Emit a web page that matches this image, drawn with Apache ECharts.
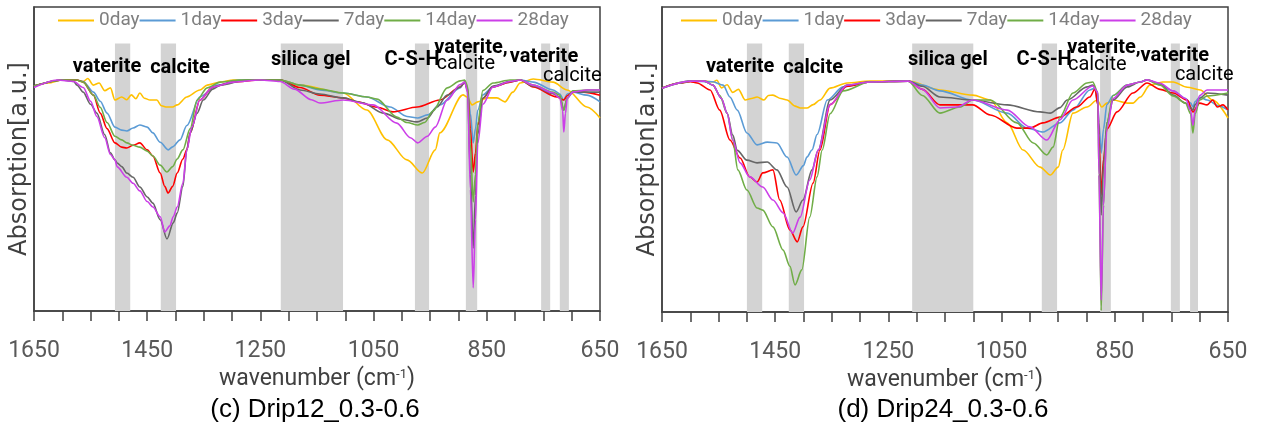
<!DOCTYPE html>
<html>
<head>
<meta charset="utf-8">
<script src="https://cdn.jsdelivr.net/npm/echarts@6/dist/echarts.min.js"></script>
<style>
  html, body { margin: 0; padding: 0; background: #fff; }
  #chart { width: 1262px; height: 432px; }
</style>
</head>
<body>
<div id="chart"></div>
<script>
// 图例 / 颜色
const days = ['0day', '1day', '3day', '7day', '14day', '28day']
const colors = ['#FFC000', '#5B9BD5', '#FF0000', '#666666', '#70AD47', '#CC3FE8']
const tickLabels = [1650, 1450, 1250, 1050, 850, 650]

// (c) Drip12_0.3-0.6 : [wavenumber, absorption a.u.]
const c0 = [[1650,74],[1625,75],[1600,76],[1575,76],[1563,75.5],[1555,76.5],[1545,74.3],[1535,75],[1525,72.5],[1515,73.4],[1507,69.4],[1495,70.4],[1486,69.5],[1478,71.1],[1470,69.8],[1463,71.7],[1455,70],[1445,69.4],[1433,69.4],[1425,67.5],[1415,67.1],[1405,67.1],[1397,67.8],[1380,70.4],[1357,72.7],[1344,74.3],[1321,75.3],[1298,76],[1215,76],[1180,74.3],[1104,71.7],[1062,66.1],[1026,56.3],[991,49.7],[964,45.4],[941,53],[933,58.6],[892,71.1],[885,70.4],[876,67.8],[866,68.8],[850,70.1],[832,70.1],[818,68.8],[804,72],[791,75],[768,76.3],[733,75.3],[708,72.7],[673,67.1],[650,63.5]]
const c1 = [[1650,74],[1600,76],[1575,76],[1563,75.5],[1545,72],[1533,69],[1521,65.1],[1507,60.5],[1495,59.5],[1486,59.2],[1475,60.2],[1463,61.2],[1450,60.5],[1440,58.6],[1427,55.5],[1413,53],[1405,54],[1392,56.3],[1380,61],[1357,70.4],[1327,74.3],[1286,76],[1215,76],[1180,74.3],[1145,72.7],[1104,71.7],[1062,70.4],[1021,67.1],[991,64],[972,63.5],[955,64.5],[933,67.8],[897,73.4],[889,75.3],[884,73.5],[879,65],[874,55.3],[870,60],[866,66],[857,71.1],[839,73.7],[809,75.3],[791,76],[768,75.3],[733,72.7],[721,71.4],[714,69.4],[708,71.4],[698,72],[673,71],[650,68.8]]
const c3 = [[1650,74],[1600,76],[1575,76],[1563,75.3],[1545,71],[1533,65.1],[1521,60],[1507,55.3],[1495,53.9],[1486,53.6],[1475,54.5],[1463,55.3],[1450,53],[1440,51],[1427,45.4],[1419,41],[1413,38.8],[1405,41],[1397,45.4],[1387,50],[1380,53],[1374,58.6],[1357,69.4],[1334,73.7],[1298,75.3],[1250,76],[1215,76],[1180,73.5],[1145,71],[1104,70.1],[1079,68.8],[1044,67],[1016,65.5],[973,67.1],[933,69.4],[897,73.7],[889,75.3],[884,73],[879,60],[874,45.7],[870,52],[866,61],[857,70],[839,73.7],[809,75.3],[791,76],[768,73.7],[726,70.4],[714,69.4],[708,70.8],[698,72],[680,72],[650,71]]
const c7 = [[1650,74],[1600,76],[1580,75.5],[1574,74.3],[1563,72],[1550,68],[1539,65.1],[1525,58],[1515,52],[1507,49.7],[1503,48.7],[1495,47.5],[1486,45.4],[1475,44],[1463,40.8],[1450,37.5],[1440,35.5],[1427,30],[1415,23.7],[1404,29],[1397,32.2],[1387,41],[1380,53],[1374,58.6],[1362,65],[1351,69.4],[1334,73],[1321,74.3],[1274,76],[1215,76],[1180,72.7],[1145,71.4],[1104,70.1],[1070,68.5],[1033,65.1],[1000,63],[973,62.2],[955,63.5],[938,67.1],[920,71],[897,73.7],[889,75.3],[884,72.5],[879,45],[874,20.7],[870,38],[866,58],[857,70],[839,74],[809,75.5],[791,76],[768,74],[733,71.5],[721,70.4],[714,66.1],[708,70],[698,72],[673,72],[650,72]]
const c14 = [[1650,74],[1600,76],[1575,76],[1563,75.3],[1545,71],[1533,67],[1521,62],[1507,57.5],[1495,56.3],[1486,55.3],[1475,54.5],[1463,53.9],[1450,52.6],[1440,51],[1427,48],[1415,45.7],[1405,47.5],[1397,50],[1387,53],[1374,60],[1362,69.4],[1344,73.4],[1321,75.3],[1286,76],[1215,76],[1180,74.3],[1145,73],[1104,71.7],[1062,70.4],[1044,69.7],[1009,63.8],[991,62],[972,61.2],[960,62],[945,65.8],[920,73.4],[897,75.7],[889,76],[884,74],[879,55],[874,35.9],[870,45],[866,62],[857,72.5],[839,75],[809,76],[791,76],[768,74.3],[733,72],[721,71],[714,66.1],[708,70],[698,72.4],[673,72.7],[650,72.7]]
const c28 = [[1650,73.5],[1609,76],[1580,75.5],[1563,73.5],[1550,69],[1539,64],[1525,57],[1515,51.5],[1507,49.7],[1503,47.4],[1486,44],[1475,42],[1463,39.5],[1450,36],[1440,34.2],[1427,31],[1419,26],[1410,28],[1404,31],[1397,34.2],[1387,42],[1380,53],[1371,60.5],[1357,69.4],[1334,73.7],[1298,75.3],[1250,76],[1215,75.5],[1190,73],[1160,69.5],[1145,68.4],[1104,69.4],[1051,67.8],[1009,61.8],[985,57],[972,55.3],[955,57.5],[941,60.5],[920,69.4],[897,74.5],[889,75.3],[884,72],[879,40],[874,7.6],[870,30],[866,55],[857,68],[839,73.7],[809,75.5],[791,76],[768,74.3],[733,71.8],[721,70],[716,66],[714,58.9],[711,65],[708,70],[698,72],[673,72.7],[650,72.7]]

// (d) Drip24_0.3-0.6
const d0 = [[1650,73.4],[1620,75],[1600,75.7],[1575,75.7],[1560,75.4],[1553,76],[1545,73.5],[1535,74.5],[1525,72],[1515,73],[1503,69.5],[1492,70],[1482,70.5],[1470,69.5],[1462,71],[1454,71.1],[1440,70],[1429,69.5],[1415,67.5],[1406,66.9],[1394,66.9],[1383,68],[1371,69.5],[1353,73.4],[1323,75.1],[1283,75.7],[1215,75.7],[1159,72.8],[1101,71.1],[1070,69.5],[1040,62],[1012,53.1],[982,47.5],[964,44.9],[950,47.5],[942,53.1],[924,65.2],[899,67.2],[881,69.5],[873,67.2],[864,68.5],[853,69.5],[828,68.5],[818,68.5],[805,70.5],[788,74.4],[765,75.4],[747,75.4],[722,73.7],[699,72.8],[677,69.5],[650,63.6]]
const d1 = [[1650,73.4],[1600,75.7],[1560,75.5],[1542,74.4],[1530,70.5],[1517,66.2],[1500,58.7],[1482,54.8],[1464,55.7],[1447,55.4],[1429,50.8],[1413,44.9],[1400,48],[1394,50.8],[1385,53.1],[1376,58.2],[1358,69.5],[1330,73.8],[1283,75.4],[1215,75.7],[1190,74.4],[1159,72.5],[1101,69.5],[1040,65.2],[1005,60.3],[977,59],[947,62],[924,66.2],[894,72.8],[885,73.4],[880,68],[878,62],[874,52.1],[870,60],[864,68],[853,71],[828,74.4],[805,75.4],[793,76.1],[770,74.5],[747,72.5],[725,70],[716,68.5],[712,67.2],[708,69],[700,70.5],[687,69.5],[665,67.5],[650,66.2]]
const d3 = [[1650,73.4],[1620,75],[1600,75.5],[1588,75.1],[1565,72.8],[1548,66.2],[1530,56.4],[1512,50.5],[1495,44.3],[1482,42.6],[1472,45.6],[1454,46.6],[1442,36.7],[1424,26.9],[1411,23],[1401,27.9],[1383,42.3],[1371,53.1],[1353,68],[1323,74],[1283,75.4],[1215,75.7],[1190,73],[1159,67.9],[1101,67.9],[1070,64.6],[1023,60.3],[1000,60.3],[977,62],[947,63.9],[917,67.2],[894,70.5],[885,73.1],[880,68],[878,58],[874,38.4],[870,50],[864,60],[846,65.6],[818,71.8],[793,75.1],[770,73],[747,71.8],[722,69.5],[712,65.6],[700,68.5],[687,67.9],[677,69.5],[669,67.2],[659,67.9],[650,66.2]]
const d7 = [[1650,73.4],[1620,75],[1600,75.7],[1575,75.7],[1560,74.4],[1545,70],[1535,65.2],[1525,58],[1517,53],[1500,49.8],[1482,48.9],[1464,49.2],[1447,46.6],[1429,41],[1413,32.8],[1401,36.7],[1385,46.6],[1374,53.1],[1353,69.5],[1323,74.4],[1283,75.4],[1215,75.7],[1190,74],[1159,70.5],[1101,69.5],[1040,67.9],[982,65.6],[964,65.2],[947,67],[934,69.5],[899,73.8],[889,74.4],[880,72],[878,55],[874,31.8],[870,48],[864,62],[853,69.5],[828,73.8],[805,75.4],[793,76.1],[770,74.8],[747,71.1],[725,68.5],[716,67],[712,66.2],[708,68],[700,70],[687,71.8],[650,71.1]]
const d14 = [[1650,73.4],[1600,75.7],[1575,75.7],[1560,74.4],[1548,71],[1535,65.2],[1525,56.4],[1516,46.6],[1500,40],[1482,34.1],[1472,33.4],[1454,27.9],[1436,20.3],[1424,15],[1415,8.9],[1403,13.8],[1389,31.1],[1376,44.3],[1367,53.1],[1353,65],[1330,72.5],[1283,75.4],[1215,75.7],[1190,71],[1159,65.2],[1124,67.2],[1101,69.5],[1070,69.5],[1023,62],[994,55.4],[970,51.5],[959,54.1],[947,63.9],[924,71.8],[899,75.1],[889,75.4],[880,72],[878,45],[874,0.5],[870,35],[864,62],[853,71],[828,74.4],[805,75.4],[793,76.1],[770,74.4],[747,70.8],[725,68.5],[716,65],[712,58.7],[708,65],[700,69.5],[687,70.8],[650,71.8]]
const d28 = [[1650,73.4],[1600,75.7],[1575,75.7],[1560,74.4],[1545,70],[1535,65.2],[1525,56.4],[1512,48.9],[1495,44.3],[1472,41],[1454,36.7],[1436,32.5],[1419,25.9],[1406,31.1],[1389,43.3],[1374,53.1],[1353,68],[1323,74.4],[1283,75.4],[1215,75.7],[1190,73],[1159,66.9],[1129,67.2],[1101,69.5],[1040,66.2],[1000,60.7],[970,56.4],[947,63],[924,69.5],[889,74.1],[880,72],[878,45],[874,3.9],[870,35],[864,60],[853,70],[828,74.4],[805,75.4],[793,76.1],[770,75],[747,72.5],[725,70],[716,66],[712,61.3],[708,66],[700,71],[687,72.8],[650,72.8]]

// 灰色带 (wavenumber 范围)
const bandsC = [[1507,1480],[1426,1399],[1214,1104],[977,952],[887,867],[754,738],[721,705]]
const bandsD = [[1500,1473],[1426,1399],[1208,1100],[979,952],[876,857],[751,735],[717,703]]
// 标注文字 [text, wavenumber, a.u., weight]
const notesC = [['vaterite',1521,80.3,'bold'],['calcite',1392,79.9,'bold'],['silica gel',1161,82.6,'bold'],['C-S-H',982,82.6,'bold'],['vaterite,',878,86.5,'bold'],['calcite',887,81.2,'normal'],['vaterite',749,83.6,'bold'],['calcite',699,77.3,'normal']]
const notesD = [['vaterite',1512,80.3,'bold'],['calcite',1383,80,'bold'],['silica gel',1145,82.6,'bold'],['C-S-H',975,82.6,'bold'],['vaterite,',869,86.6,'bold'],['calcite',881,81,'normal'],['vaterite',744,83.9,'bold'],['calcite',692,77.7,'normal']]

const txtFont = 'Roboto, "Liberation Sans", sans-serif'
const bandTop = 88

const chart = echarts.init(document.getElementById('chart'))

function axesFor(i) {
  return {
    x: {
      gridIndex: i, type: 'value', min: 650, max: 1650, interval: 50, inverse: true,
      axisLine: { show: true, onZero: false, lineStyle: { color: '#404040', width: 1.5 } },
      axisTick: { show: true, inside: false, length: 10, lineStyle: { color: '#404040', width: 1.5 } },
      axisLabel: {
        margin: 29, color: '#595959', fontFamily: txtFont, fontSize: 23,
        formatter: v => tickLabels.includes(v) ? String(v) : ''
      },
      splitLine: { show: false },
      name: '{a|wavenumber (cm}{s|-1}{a|)}',
      nameLocation: 'middle', nameGap: 53,
      nameTextStyle: {
        rich: {
          a: { fontFamily: txtFont, fontSize: 23, color: '#404040' },
          s: { fontFamily: txtFont, fontSize: 13, color: '#404040', verticalAlign: 'top' }
        }
      }
    },
    y: {
      gridIndex: i, type: 'value', min: 0, max: 100,
      axisLine: { show: true, lineStyle: { color: '#404040', width: 1.5 } },
      axisTick: { show: false }, axisLabel: { show: false }, splitLine: { show: false },
      name: 'Absorption[a.u.]', nameLocation: 'middle', nameGap: 2,
      nameTextStyle: { fontFamily: '"DejaVu Sans", sans-serif', fontSize: 24, color: '#404040' }
    }
  }
}

function seriesFor(i, curves, bands, notes) {
  const list = [{
    type: 'line', xAxisIndex: i, yAxisIndex: i, data: [], silent: true,
    markArea: {
      silent: true,
      itemStyle: { color: '#D3D3D3' },
      data: bands.map(b => [{ xAxis: b[0], yAxis: 0 }, { xAxis: b[1], yAxis: bandTop }])
    },
    markPoint: {
      silent: true, symbol: 'rect', symbolSize: 1,
      itemStyle: { color: 'rgba(0,0,0,0)' },
      label: { show: true, position: 'inside', formatter: '{b}', color: '#000', fontFamily: txtFont, fontSize: 20 },
      data: notes.map(n => ({ name: n[0], coord: [n[1], n[2]], label: { fontWeight: n[3] } }))
    }
  }]
  curves.forEach((d, k) => {
    list.push({
      name: days[k], type: 'line', xAxisIndex: i, yAxisIndex: i, data: d,
      symbol: 'none', smooth: 0.3, smoothMonotone: 'x',
      lineStyle: { width: 1.6, color: colors[k] }, itemStyle: { color: colors[k] }
    })
  })
  return list
}

const axC = axesFor(0)
const axD = axesFor(1)

chart.setOption({
  animation: false,
  grid: [
    { left: 34, top: 7, width: 566, height: 304, show: true, borderColor: '#404040', borderWidth: 1.5 },
    { left: 662, top: 7, width: 566, height: 305, show: true, borderColor: '#404040', borderWidth: 1.5 }
  ],
  legend: [58, 681].map(x => ({
    data: days, left: x, top: 11, padding: 0, icon: 'rect', itemWidth: 36, itemHeight: 2, itemGap: 0,
    selectedMode: false,
    textStyle: { fontFamily: txtFont, fontSize: 19, color: '#7F7F7F' }
  })),
  xAxis: [axC.x, axD.x],
  yAxis: [axC.y, axD.y],
  series: [
    ...seriesFor(0, [c0, c1, c3, c7, c14, c28], bandsC, notesC),
    ...seriesFor(1, [d0, d1, d3, d7, d14, d28], bandsD, notesD)
  ],
  graphic: [
    { type: 'text', x: 315, y: 410, style: { text: '(c) Drip12_0.3-0.6', font: '26px "Liberation Sans", Arial, sans-serif', fill: '#000', align: 'center', verticalAlign: 'middle' } },
    { type: 'text', x: 943, y: 410, style: { text: '(d) Drip24_0.3-0.6', font: '26px "Liberation Sans", Arial, sans-serif', fill: '#000', align: 'center', verticalAlign: 'middle' } }
  ]
})
</script>
</body>
</html>
